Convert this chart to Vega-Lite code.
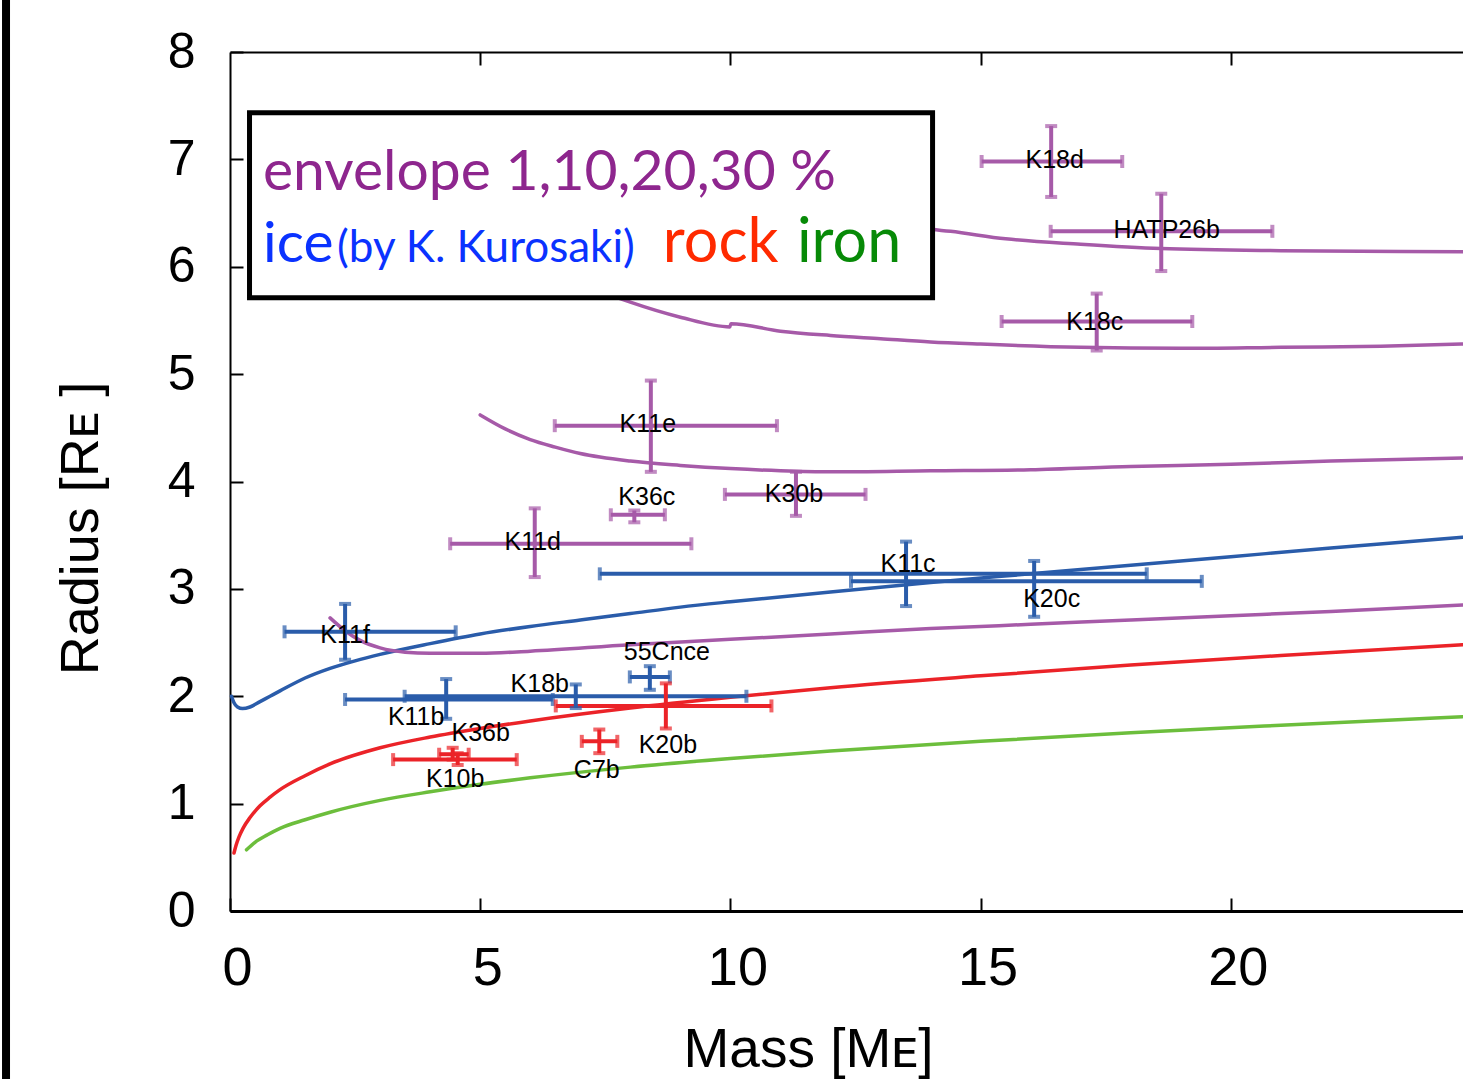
{
  "$schema": "https://vega.github.io/schema/vega-lite/v6.json",
  "width": 1233,
  "height": 859,
  "autosize": {"type": "none"},
  "padding": {"left": 230, "top": 52, "right": 0, "bottom": 168},
  "background": "white",
  "config": {
    "view": {"stroke": null},
    "axis": {
      "grid": false,
      "domainColor": "black",
      "tickColor": "black",
      "labelColor": "black",
      "titleColor": "black",
      "labelFont": "Liberation Sans",
      "titleFont": "Liberation Sans",
      "titleFontWeight": "normal",
      "labelFlush": false,
      "labelOverlap": false
    }
  },
  "datasets": {
    "curves": [
      {"model": "ice", "kind": "ice", "mass": 0.03, "radius": 2.0},
      {"model": "ice", "kind": "ice", "mass": 0.08, "radius": 1.94},
      {"model": "ice", "kind": "ice", "mass": 0.15, "radius": 1.9},
      {"model": "ice", "kind": "ice", "mass": 0.25, "radius": 1.885},
      {"model": "ice", "kind": "ice", "mass": 0.4, "radius": 1.9},
      {"model": "ice", "kind": "ice", "mass": 0.6, "radius": 1.95},
      {"model": "ice", "kind": "ice", "mass": 0.8, "radius": 2.0},
      {"model": "ice", "kind": "ice", "mass": 1.0, "radius": 2.05},
      {"model": "ice", "kind": "ice", "mass": 1.5, "radius": 2.17},
      {"model": "ice", "kind": "ice", "mass": 2.0, "radius": 2.26},
      {"model": "ice", "kind": "ice", "mass": 2.5, "radius": 2.33},
      {"model": "ice", "kind": "ice", "mass": 3.0, "radius": 2.39},
      {"model": "ice", "kind": "ice", "mass": 4.0, "radius": 2.49},
      {"model": "ice", "kind": "ice", "mass": 5.0, "radius": 2.58},
      {"model": "ice", "kind": "ice", "mass": 6.0, "radius": 2.65},
      {"model": "ice", "kind": "ice", "mass": 7.0, "radius": 2.71},
      {"model": "ice", "kind": "ice", "mass": 8.0, "radius": 2.77},
      {"model": "ice", "kind": "ice", "mass": 9.0, "radius": 2.83},
      {"model": "ice", "kind": "ice", "mass": 10.0, "radius": 2.88},
      {"model": "ice", "kind": "ice", "mass": 12.0, "radius": 2.97},
      {"model": "ice", "kind": "ice", "mass": 14.0, "radius": 3.06},
      {"model": "ice", "kind": "ice", "mass": 16.0, "radius": 3.14},
      {"model": "ice", "kind": "ice", "mass": 18.0, "radius": 3.22},
      {"model": "ice", "kind": "ice", "mass": 20.0, "radius": 3.3},
      {"model": "ice", "kind": "ice", "mass": 22.0, "radius": 3.38},
      {"model": "ice", "kind": "ice", "mass": 24.63, "radius": 3.48},

      {"model": "rock", "kind": "rock", "mass": 0.08, "radius": 0.54},
      {"model": "rock", "kind": "rock", "mass": 0.12, "radius": 0.61},
      {"model": "rock", "kind": "rock", "mass": 0.18, "radius": 0.69},
      {"model": "rock", "kind": "rock", "mass": 0.26, "radius": 0.77},
      {"model": "rock", "kind": "rock", "mass": 0.4, "radius": 0.87},
      {"model": "rock", "kind": "rock", "mass": 0.6, "radius": 0.98},
      {"model": "rock", "kind": "rock", "mass": 0.8, "radius": 1.06},
      {"model": "rock", "kind": "rock", "mass": 1.0, "radius": 1.13},
      {"model": "rock", "kind": "rock", "mass": 1.5, "radius": 1.26},
      {"model": "rock", "kind": "rock", "mass": 2.0, "radius": 1.37},
      {"model": "rock", "kind": "rock", "mass": 3.0, "radius": 1.52},
      {"model": "rock", "kind": "rock", "mass": 4.0, "radius": 1.62},
      {"model": "rock", "kind": "rock", "mass": 5.0, "radius": 1.7},
      {"model": "rock", "kind": "rock", "mass": 6.0, "radius": 1.77},
      {"model": "rock", "kind": "rock", "mass": 8.0, "radius": 1.89},
      {"model": "rock", "kind": "rock", "mass": 10.0, "radius": 1.99},
      {"model": "rock", "kind": "rock", "mass": 12.0, "radius": 2.08},
      {"model": "rock", "kind": "rock", "mass": 15.0, "radius": 2.19},
      {"model": "rock", "kind": "rock", "mass": 18.0, "radius": 2.29},
      {"model": "rock", "kind": "rock", "mass": 21.0, "radius": 2.38},
      {"model": "rock", "kind": "rock", "mass": 24.63, "radius": 2.48},

      {"model": "iron", "kind": "iron", "mass": 0.33, "radius": 0.57},
      {"model": "iron", "kind": "iron", "mass": 0.5, "radius": 0.64},
      {"model": "iron", "kind": "iron", "mass": 0.75, "radius": 0.71},
      {"model": "iron", "kind": "iron", "mass": 1.0, "radius": 0.77},
      {"model": "iron", "kind": "iron", "mass": 1.5, "radius": 0.85},
      {"model": "iron", "kind": "iron", "mass": 2.0, "radius": 0.92},
      {"model": "iron", "kind": "iron", "mass": 3.0, "radius": 1.03},
      {"model": "iron", "kind": "iron", "mass": 4.0, "radius": 1.11},
      {"model": "iron", "kind": "iron", "mass": 5.0, "radius": 1.18},
      {"model": "iron", "kind": "iron", "mass": 6.0, "radius": 1.24},
      {"model": "iron", "kind": "iron", "mass": 8.0, "radius": 1.34},
      {"model": "iron", "kind": "iron", "mass": 10.0, "radius": 1.42},
      {"model": "iron", "kind": "iron", "mass": 12.0, "radius": 1.49},
      {"model": "iron", "kind": "iron", "mass": 15.0, "radius": 1.58},
      {"model": "iron", "kind": "iron", "mass": 18.0, "radius": 1.66},
      {"model": "iron", "kind": "iron", "mass": 21.0, "radius": 1.73},
      {"model": "iron", "kind": "iron", "mass": 24.63, "radius": 1.81},

      {"model": "env1", "kind": "envelope", "mass": 2.0, "radius": 2.73},
      {"model": "env1", "kind": "envelope", "mass": 2.3, "radius": 2.61},
      {"model": "env1", "kind": "envelope", "mass": 2.6, "radius": 2.52},
      {"model": "env1", "kind": "envelope", "mass": 3.0, "radius": 2.45},
      {"model": "env1", "kind": "envelope", "mass": 3.5, "radius": 2.41},
      {"model": "env1", "kind": "envelope", "mass": 4.0, "radius": 2.4},
      {"model": "env1", "kind": "envelope", "mass": 5.0, "radius": 2.4},
      {"model": "env1", "kind": "envelope", "mass": 6.0, "radius": 2.42},
      {"model": "env1", "kind": "envelope", "mass": 8.0, "radius": 2.48},
      {"model": "env1", "kind": "envelope", "mass": 10.0, "radius": 2.53},
      {"model": "env1", "kind": "envelope", "mass": 12.0, "radius": 2.58},
      {"model": "env1", "kind": "envelope", "mass": 14.0, "radius": 2.63},
      {"model": "env1", "kind": "envelope", "mass": 16.0, "radius": 2.67},
      {"model": "env1", "kind": "envelope", "mass": 18.0, "radius": 2.71},
      {"model": "env1", "kind": "envelope", "mass": 20.0, "radius": 2.75},
      {"model": "env1", "kind": "envelope", "mass": 22.0, "radius": 2.79},
      {"model": "env1", "kind": "envelope", "mass": 24.63, "radius": 2.85},

      {"model": "env10", "kind": "envelope", "mass": 5.0, "radius": 4.62},
      {"model": "env10", "kind": "envelope", "mass": 5.5, "radius": 4.49},
      {"model": "env10", "kind": "envelope", "mass": 6.0, "radius": 4.39},
      {"model": "env10", "kind": "envelope", "mass": 6.5, "radius": 4.32},
      {"model": "env10", "kind": "envelope", "mass": 7.0, "radius": 4.26},
      {"model": "env10", "kind": "envelope", "mass": 8.0, "radius": 4.19},
      {"model": "env10", "kind": "envelope", "mass": 9.0, "radius": 4.15},
      {"model": "env10", "kind": "envelope", "mass": 10.0, "radius": 4.12},
      {"model": "env10", "kind": "envelope", "mass": 11.0, "radius": 4.1},
      {"model": "env10", "kind": "envelope", "mass": 12.0, "radius": 4.09},
      {"model": "env10", "kind": "envelope", "mass": 14.0, "radius": 4.1},
      {"model": "env10", "kind": "envelope", "mass": 16.0, "radius": 4.11},
      {"model": "env10", "kind": "envelope", "mass": 18.0, "radius": 4.14},
      {"model": "env10", "kind": "envelope", "mass": 20.0, "radius": 4.16},
      {"model": "env10", "kind": "envelope", "mass": 22.0, "radius": 4.19},
      {"model": "env10", "kind": "envelope", "mass": 24.63, "radius": 4.22},

      {"model": "env20", "kind": "envelope", "mass": 5.0, "radius": 6.5},
      {"model": "env20", "kind": "envelope", "mass": 6.0, "radius": 6.1},
      {"model": "env20", "kind": "envelope", "mass": 7.0, "radius": 5.85},
      {"model": "env20", "kind": "envelope", "mass": 8.0, "radius": 5.67},
      {"model": "env20", "kind": "envelope", "mass": 9.0, "radius": 5.53},
      {"model": "env20", "kind": "envelope", "mass": 9.99, "radius": 5.44},
      {"model": "env20", "kind": "envelope", "mass": 10.01, "radius": 5.47},
      {"model": "env20", "kind": "envelope", "mass": 11.0, "radius": 5.4},
      {"model": "env20", "kind": "envelope", "mass": 12.0, "radius": 5.36},
      {"model": "env20", "kind": "envelope", "mass": 13.0, "radius": 5.33},
      {"model": "env20", "kind": "envelope", "mass": 14.0, "radius": 5.3},
      {"model": "env20", "kind": "envelope", "mass": 15.0, "radius": 5.28},
      {"model": "env20", "kind": "envelope", "mass": 17.0, "radius": 5.25},
      {"model": "env20", "kind": "envelope", "mass": 19.0, "radius": 5.24},
      {"model": "env20", "kind": "envelope", "mass": 21.0, "radius": 5.25},
      {"model": "env20", "kind": "envelope", "mass": 23.0, "radius": 5.26},
      {"model": "env20", "kind": "envelope", "mass": 24.63, "radius": 5.28},

      {"model": "env30", "kind": "envelope", "mass": 5.0, "radius": 7.3},
      {"model": "env30", "kind": "envelope", "mass": 7.0, "radius": 6.85},
      {"model": "env30", "kind": "envelope", "mass": 9.0, "radius": 6.6},
      {"model": "env30", "kind": "envelope", "mass": 11.0, "radius": 6.47},
      {"model": "env30", "kind": "envelope", "mass": 13.0, "radius": 6.39},
      {"model": "env30", "kind": "envelope", "mass": 14.4, "radius": 6.33},
      {"model": "env30", "kind": "envelope", "mass": 15.5, "radius": 6.26},
      {"model": "env30", "kind": "envelope", "mass": 17.0, "radius": 6.21},
      {"model": "env30", "kind": "envelope", "mass": 18.6, "radius": 6.17},
      {"model": "env30", "kind": "envelope", "mass": 21.0, "radius": 6.15},
      {"model": "env30", "kind": "envelope", "mass": 24.63, "radius": 6.14}
    ],
    "planets": [
      {"name": "K18d", "kind": "envelope", "mass": 16.41, "mlo": 15.02, "mhi": 17.83, "radius": 6.98, "rlo": 6.65, "rhi": 7.31, "lx": 16.48, "ly": 6.99},
      {"name": "HATP26b", "kind": "envelope", "mass": 18.61, "mlo": 16.4, "mhi": 20.83, "radius": 6.33, "rlo": 5.96, "rhi": 6.68, "lx": 18.72, "ly": 6.34},
      {"name": "K18c", "kind": "envelope", "mass": 17.32, "mlo": 15.42, "mhi": 19.23, "radius": 5.49, "rlo": 5.22, "rhi": 5.75, "lx": 17.28, "ly": 5.49},
      {"name": "K11e", "kind": "envelope", "mass": 8.41, "mlo": 6.49, "mhi": 10.93, "radius": 4.52, "rlo": 4.09, "rhi": 4.94, "lx": 8.35, "ly": 4.54},
      {"name": "K36c", "kind": "envelope", "mass": 8.08, "mlo": 7.61, "mhi": 8.69, "radius": 3.69, "rlo": 3.62, "rhi": 3.73, "lx": 8.33, "ly": 3.86},
      {"name": "K30b", "kind": "envelope", "mass": 11.31, "mlo": 9.89, "mhi": 12.7, "radius": 3.88, "rlo": 3.68, "rhi": 4.09, "lx": 11.27, "ly": 3.88},
      {"name": "K11d", "kind": "envelope", "mass": 6.09, "mlo": 4.4, "mhi": 9.22, "radius": 3.42, "rlo": 3.11, "rhi": 3.75, "lx": 6.05, "ly": 3.44},
      {"name": "K11c", "kind": "ice", "mass": 13.51, "mlo": 7.39, "mhi": 18.32, "radius": 3.14, "rlo": 2.84, "rhi": 3.44, "lx": 13.55, "ly": 3.23},
      {"name": "K20c", "kind": "ice", "mass": 16.07, "mlo": 12.41, "mhi": 19.42, "radius": 3.07, "rlo": 2.74, "rhi": 3.26, "lx": 16.42, "ly": 2.905},
      {"name": "K11f", "kind": "ice", "mass": 2.3, "mlo": 1.09, "mhi": 4.51, "radius": 2.6, "rlo": 2.34, "rhi": 2.86, "lx": 2.3, "ly": 2.57},
      {"name": "55Cnce", "kind": "ice", "mass": 8.39, "mlo": 7.99, "mhi": 8.79, "radius": 2.18, "rlo": 2.06, "rhi": 2.28, "lx": 8.73, "ly": 2.41},
      {"name": "K18b", "kind": "ice", "mass": 6.91, "mlo": 3.49, "mhi": 10.32, "radius": 2.0, "rlo": 1.89, "rhi": 2.11, "lx": 6.19, "ly": 2.11},
      {"name": "K11b", "kind": "ice", "mass": 4.32, "mlo": 2.3, "mhi": 6.45, "radius": 1.97, "rlo": 1.79, "rhi": 2.16, "lx": 3.72, "ly": 1.81},
      {"name": "K36b", "kind": "rock", "mass": 4.45, "mlo": 4.18, "mhi": 4.77, "radius": 1.46, "rlo": 1.41, "rhi": 1.52, "lx": 5.01, "ly": 1.66},
      {"name": "K20b", "kind": "rock", "mass": 8.71, "mlo": 6.51, "mhi": 10.82, "radius": 1.91, "rlo": 1.7, "rhi": 2.12, "lx": 8.75, "ly": 1.55},
      {"name": "C7b", "kind": "rock", "mass": 7.38, "mlo": 7.03, "mhi": 7.74, "radius": 1.58, "rlo": 1.47, "rhi": 1.69, "lx": 7.33, "ly": 1.31},
      {"name": "K10b", "kind": "rock", "mass": 4.55, "mlo": 3.26, "mhi": 5.73, "radius": 1.41, "rlo": 1.36, "rhi": 1.47, "lx": 4.5, "ly": 1.23}
    ]
  },
  "resolve": {"axis": {"x": "independent", "y": "independent"}},
  "layer": [
    {
      "data": {"name": "curves"},
      "mark": {"type": "line", "strokeWidth": 3.5, "interpolate": "monotone", "strokeCap": "round"},
      "encoding": {
        "x": {
          "field": "mass", "type": "quantitative",
          "scale": {"domain": [0, 24.64], "nice": false, "zero": false},
          "axis": {
            "orient": "bottom", "values": [0, 5, 10, 15, 20],
            "title": "Mass [Mᴇ]", "titleFontSize": 55, "titleX": 578, "titleY": 155,
            "titleBaseline": "alphabetic", "titleAlign": "center", "titleAnchor": "start",
            "labelFontSize": 54, "labelPadding": 43, "labelOffset": 7,
            "tickSize": -13, "tickWidth": 2, "domainWidth": 3
          }
        },
        "y": {
          "field": "radius", "type": "quantitative",
          "scale": {"domain": [0, 8], "nice": false, "zero": false},
          "axis": {
            "orient": "left", "values": [0, 1, 2, 3, 4, 5, 6, 7, 8],
            "title": "Radius [Rᴇ ]", "titleFontSize": 54, "titleAngle": 270,
            "titleX": -133, "titleY": 476, "titleBaseline": "alphabetic", "titleAlign": "center", "titleAnchor": "start",
            "labelFontSize": 50, "labelPadding": 48,
            "tickSize": -13, "tickWidth": 2, "domainWidth": 2
          }
        },
        "color": {
          "field": "kind", "type": "nominal",
          "scale": {"domain": ["envelope", "ice", "rock", "iron"], "range": ["#a65aa8", "#2a5caa", "#eb2328", "#6cbe3c"]},
          "legend": null
        },
        "detail": {"field": "model"}
      }
    },
    {
      "data": {"values": [{}]},
      "mark": {"type": "rect", "fill": "white", "stroke": "black", "strokeWidth": 5},
      "encoding": {
        "x": {"datum": 0.39, "type": "quantitative", "axis": null},
        "x2": {"datum": 14.04},
        "y": {"datum": 7.435, "type": "quantitative", "axis": null},
        "y2": {"datum": 5.712}
      }
    },
    {
      "data": {"values": [{}]},
      "mark": {"type": "text", "text": "envelope 1,10,20,30 %", "font": "Lato", "fontSize": 57, "align": "left", "baseline": "alphabetic", "color": "#8e268e"},
      "encoding": {
        "x": {"datum": 0.66, "type": "quantitative", "axis": null},
        "y": {"datum": 6.713, "type": "quantitative", "axis": null}
      }
    },
    {
      "data": {"values": [{}]},
      "mark": {"type": "text", "text": "ice", "font": "Lato", "fontSize": 57, "align": "left", "baseline": "alphabetic", "color": "#0a32ff"},
      "encoding": {
        "x": {"datum": 0.66, "type": "quantitative", "axis": null},
        "y": {"datum": 6.043, "type": "quantitative", "axis": null}
      }
    },
    {
      "data": {"values": [{}]},
      "mark": {"type": "text", "text": "(by K. Kurosaki)", "font": "Lato", "fontSize": 44, "align": "left", "baseline": "alphabetic", "color": "#0a32ff"},
      "encoding": {
        "x": {"datum": 2.14, "type": "quantitative", "axis": null},
        "y": {"datum": 6.043, "type": "quantitative", "axis": null}
      }
    },
    {
      "data": {"values": [{}]},
      "mark": {"type": "text", "text": "rock", "font": "Lato", "fontSize": 61, "align": "left", "baseline": "alphabetic", "color": "#ff2a00"},
      "encoding": {
        "x": {"datum": 8.65, "type": "quantitative", "axis": null},
        "y": {"datum": 6.043, "type": "quantitative", "axis": null}
      }
    },
    {
      "data": {"values": [{}]},
      "mark": {"type": "text", "text": "iron", "font": "Lato", "fontSize": 61, "align": "left", "baseline": "alphabetic", "color": "#078a07"},
      "encoding": {
        "x": {"datum": 11.33, "type": "quantitative", "axis": null},
        "y": {"datum": 6.043, "type": "quantitative", "axis": null}
      }
    },
    {
      "data": {"name": "planets"},
      "mark": {"type": "rule", "strokeWidth": 4},
      "encoding": {
        "x": {
          "field": "mlo", "type": "quantitative",
          "axis": {
            "orient": "top", "values": [5, 10, 15, 20], "labels": false, "title": null,
            "tickSize": -13, "tickWidth": 2, "domainWidth": 2
          }
        },
        "x2": {"field": "mhi"},
        "y": {"field": "radius", "type": "quantitative", "axis": null},
        "color": {"field": "kind", "type": "nominal", "legend": null}
      }
    },
    {
      "data": {"name": "planets"},
      "mark": {"type": "rule", "strokeWidth": 4},
      "encoding": {
        "x": {"field": "mass", "type": "quantitative", "axis": null},
        "y": {"field": "rlo", "type": "quantitative", "axis": null},
        "y2": {"field": "rhi"},
        "color": {"field": "kind", "type": "nominal", "legend": null}
      }
    },
    {
      "data": {"name": "planets"},
      "transform": [{"fold": ["mlo", "mhi"], "as": ["end", "edge"]}],
      "mark": {"type": "tick", "orient": "vertical", "size": 13, "thickness": 4},
      "encoding": {
        "x": {"field": "edge", "type": "quantitative", "axis": null},
        "y": {"field": "radius", "type": "quantitative", "axis": null},
        "color": {"field": "kind", "type": "nominal", "legend": null}
      }
    },
    {
      "data": {"name": "planets"},
      "transform": [{"fold": ["rlo", "rhi"], "as": ["end", "edge"]}],
      "mark": {"type": "tick", "orient": "horizontal", "size": 12, "thickness": 4},
      "encoding": {
        "x": {"field": "mass", "type": "quantitative", "axis": null},
        "y": {"field": "edge", "type": "quantitative", "axis": null},
        "color": {"field": "kind", "type": "nominal", "legend": null}
      }
    },
    {
      "data": {"name": "planets"},
      "mark": {"type": "text", "font": "Liberation Sans", "fontSize": 25, "color": "black", "align": "center", "baseline": "middle"},
      "encoding": {
        "x": {"field": "lx", "type": "quantitative", "axis": null},
        "y": {"field": "ly", "type": "quantitative", "axis": null},
        "text": {"field": "name"}
      }
    },
    {
      "data": {"values": [{}]},
      "mark": {"type": "rule", "color": "black", "strokeWidth": 8},
      "encoding": {
        "x": {"datum": -4.476, "type": "quantitative", "axis": null},
        "y": {"datum": 8.7, "type": "quantitative", "axis": null},
        "y2": {"datum": -1.7}
      }
    }
  ]
}
